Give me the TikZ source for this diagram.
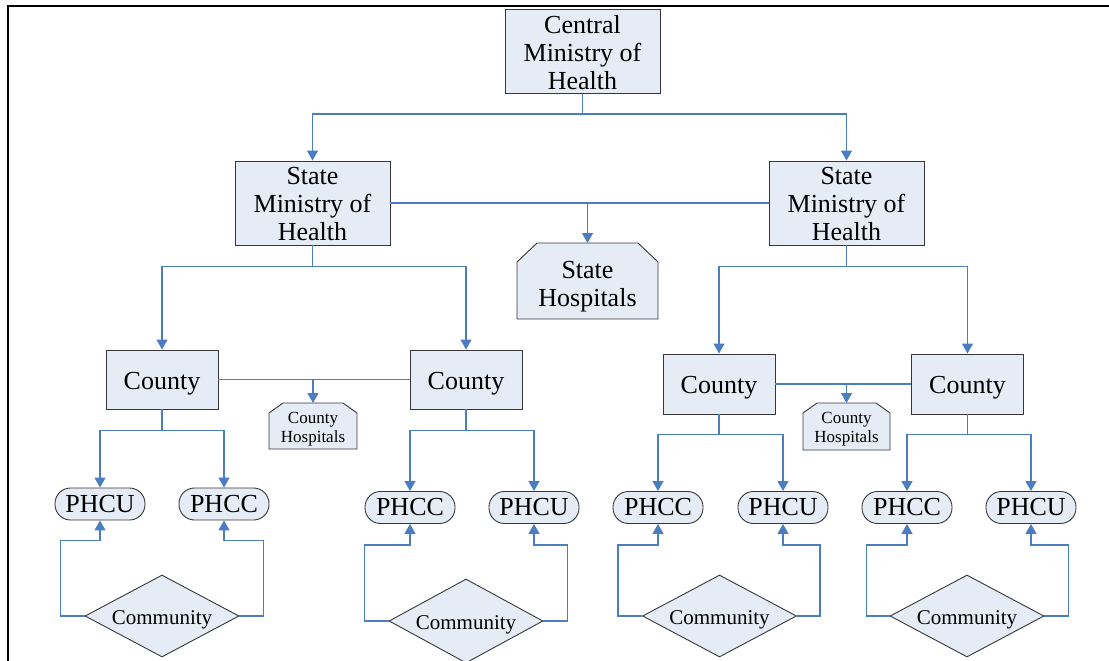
\documentclass[tikz,border=0pt]{standalone}
\usepackage{fontspec}
\setmainfont{Liberation Serif}
\usetikzlibrary{arrows.meta,shapes.geometric,backgrounds}
\definecolor{boxfill}{RGB}{230,236,246}
\definecolor{boxline}{RGB}{55,55,55}
\definecolor{conncol}{RGB}{74,126,193}
\newcommand{\shtext}[2]{\raisebox{#1}[\height][\depth]{\begin{tabular}{@{}c@{}}#2\end{tabular}}}
\begin{document}
\begin{tikzpicture}[x=1pt,y=-1pt,
  outline/.style={fill=boxfill, draw=boxline, line width=0.9pt},
  base/.style={outline, inner sep=0pt},
  ministry/.style={base, rectangle, minimum width=155pt, minimum height=82pt, font=\fontsize{26}{28}\selectfont},
  county/.style={base, rectangle, minimum width=112pt, minimum height=59pt, font=\fontsize{26}{28}\selectfont},
  phc/.style={base, rectangle, rounded corners=15.5pt, minimum width=90pt, minimum height=32pt, font=\fontsize{26}{28}\selectfont},
  comm/.style={base, diamond, aspect=1.88, minimum width=154pt, minimum height=82pt, font=\fontsize{21}{24}\selectfont},
  hosp/.style={inner sep=0pt, outer sep=0pt, rectangle},
  conn/.style={draw=conncol, line width=1.3pt},
  arr/.style={conn, -{Triangle[width=11pt,length=10pt]}}
]
\useasboundingbox (0,0) rectangle (1109,661);
% frame
\draw[line width=2pt] (7.5,661) -- (7.5,6.5) -- (1109,6.5);

% nodes
\node[ministry] (cm) at (582.5,51.5) {\shtext{-4pt}{Central\\Ministry of\\Health}};
\node[ministry] (sl) at (312.5,203) {\shtext{-4pt}{State\\Ministry of\\Health}};
\node[ministry] (sr) at (846.5,203) {\shtext{-4pt}{State\\Ministry of\\Health}};
\node[hosp, minimum width=141pt, minimum height=76pt, font=\fontsize{26}{28}\selectfont] (sh) at (587.5,281) {\shtext{-6pt}{State\\Hospitals}};

\node[county] (c1) at (162,379.5) {\shtext{-4pt}{County}};
\node[county] (c2) at (466,379.5) {\shtext{-4pt}{County}};
\node[county, minimum height=60pt] (c3) at (719,384) {\shtext{-4pt}{County}};
\node[county, minimum height=60pt] (c4) at (967.5,384) {\shtext{-4pt}{County}};

\node[hosp, minimum width=88pt, minimum height=46pt, font=\fontsize{17}{19}\selectfont] (ch1) at (313,426) {\shtext{-3pt}{County\\Hospitals}};
\node[hosp, minimum width=87pt, minimum height=47pt, font=\fontsize{17}{19}\selectfont] (ch2) at (846.5,426.5) {\shtext{-3pt}{County\\Hospitals}};

\node[phc] (p1) at (100,504) {PHCU};
\node[phc] (p2) at (224,504) {PHCC};
\node[phc] (p3) at (410,507.5) {PHCC};
\node[phc] (p4) at (534,507.5) {PHCU};
\node[phc] (p5) at (658,507.5) {PHCC};
\node[phc] (p6) at (783,507.5) {PHCU};
\node[phc] (p7) at (907,507.5) {PHCC};
\node[phc] (p8) at (1031,507.5) {PHCU};

\node[comm] (d1) at (162,616) {\shtext{-4pt}{Community}};
\node[comm, minimum height=84pt] (d2) at (466,621) {\shtext{-4pt}{Community}};
\node[comm] (d3) at (719.5,616) {\shtext{-4pt}{Community}};
\node[comm] (d4) at (967,616) {\shtext{-4pt}{Community}};

% chamfered hospital outlines
\begin{pgfonlayer}{background}
\draw[outline] ([xshift=20pt]sh.north west) -- ([xshift=-20pt]sh.north east) -- ([yshift=-19pt]sh.north east) -- (sh.south east) -- (sh.south west) -- ([yshift=-19pt]sh.north west) -- cycle;
\draw[outline] ([xshift=14pt]ch1.north west) -- ([xshift=-14pt]ch1.north east) -- ([yshift=-10pt]ch1.north east) -- (ch1.south east) -- (ch1.south west) -- ([yshift=-10pt]ch1.north west) -- cycle;
\draw[outline] ([xshift=14pt]ch2.north west) -- ([xshift=-14pt]ch2.north east) -- ([yshift=-10pt]ch2.north east) -- (ch2.south east) -- (ch2.south west) -- ([yshift=-10pt]ch2.north west) -- cycle;
\end{pgfonlayer}

% central -> states
\draw[arr] (cm.south) -- ++(0,20) -| (sl.north);
\draw[arr] (cm.south) -- ++(0,20) -| (sr.north);
% state hospitals
\draw[conn] (sl.east) -- (sr.west);
\draw[arr] (sh.north |- sl.east) -- (sh.north);
% states -> counties
\draw[arr] (sl.south) -- ++(0,21) -| (c1.north);
\draw[arr] (sl.south) -- ++(0,21) -| (c2.north);
\draw[arr] (sr.south) -- ++(0,21) -| (c3.north);
\draw[arr] (sr.south) -- ++(0,21) -| (c4.north);
% county hospitals
\draw[conn] (c1.east) -- (c2.west);
\draw[arr] (ch1.north |- c1.east) -- (ch1.north);
\draw[conn] (c3.east) -- (c4.west);
\draw[arr] (ch2.north |- c3.east) -- (ch2.north);
% counties -> PHC
\draw[arr] (c1.south) -- ++(0,21) -| (p1.north);
\draw[arr] (c1.south) -- ++(0,21) -| (p2.north);
\draw[arr] (c2.south) -- ++(0,21) -| (p3.north);
\draw[arr] (c2.south) -- ++(0,21) -| (p4.north);
\draw[arr] (c3.south) -- ++(0,20) -| (p5.north);
\draw[arr] (c3.south) -- ++(0,20) -| (p6.north);
\draw[arr] (c4.south) -- ++(0,20) -| (p7.north);
\draw[arr] (c4.south) -- ++(0,20) -| (p8.north);
% community -> PHC
\draw[arr] (d1.west) -- ++(-24,0) |- ([yshift=-20pt]p1.south) -- (p1.south);
\draw[arr] (d1.east) -- ++(24,0) |- ([yshift=-20pt]p2.south) -- (p2.south);
\draw[arr] (d2.west) -- ++(-24,0) |- ([yshift=-21pt]p3.south) -- (p3.south);
\draw[arr] (d2.east) -- ++(24,0) |- ([yshift=-21pt]p4.south) -- (p4.south);
\draw[arr] (d3.west) -- ++(-24,0) |- ([yshift=-21pt]p5.south) -- (p5.south);
\draw[arr] (d3.east) -- ++(23,0) |- ([yshift=-21pt]p6.south) -- (p6.south);
\draw[arr] (d4.west) -- ++(-23,0) |- ([yshift=-21pt]p7.south) -- (p7.south);
\draw[arr] (d4.east) -- ++(24,0) |- ([yshift=-21pt]p8.south) -- (p8.south);
\end{tikzpicture}
\end{document}
